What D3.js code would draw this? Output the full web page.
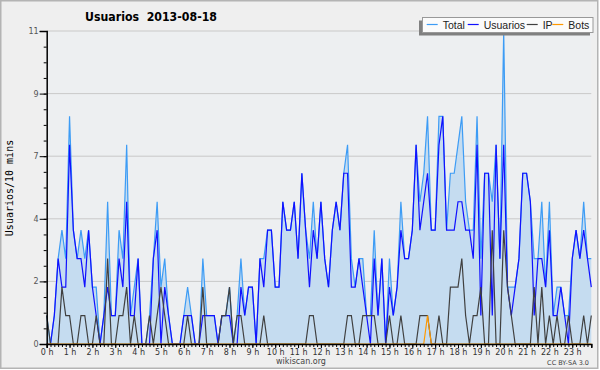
<!DOCTYPE html>
<html>
<head>
<meta charset="utf-8">
<script src="https://cdn.jsdelivr.net/npm/d3@7"></script>
<style>
  body { margin: 0; background: #fff; }
  text { font-family: "DejaVu Sans", sans-serif; }
</style>
</head>
<body>
<div id="chart"></div>
<script>
// 10-minute slots, 144 per day
var hourLabels = d3.range(0, 24).map(function (h) { return h + " h"; });
var yTicks = [0, 2.2, 4.4, 6.6, 8.8, 11];

var total = [1,0,1,3,4,3,8,4,3,4, 3,4,2,2,0,1,5,1,1,4, 3,7,1,2,3,0,0,1,3,5,
             2,3,1,0,0,0,1,2,1,0, 0,3,1,1,1,0,1,1,2,0, 1,3,1,2,2,0,3,3,4,4,
             2,2,5,4,4,5,3,6,4,3, 5,3,5,3,2,4,5,4,6,7, 3,2,3,3,1,1,4,1,3,0,
             3,1,2,5,3,3,4,7,5,6, 8,4,4,8,8,4,6,6,7,8, 5,4,4,8,3,6,6,5,7,3,
             11,2,2,2,3,6,6,5,3,3, 5,2,5,1,2,2,1,1,3,4, 3,5,3,3];
var usuarios = [0,0,1,3,2,2,7,4,3,3, 2,4,2,1,0,1,2,1,1,3, 2,5,1,1,3,0,0,0,3,4,
                0,2,1,0,0,0,1,1,1,0, 0,1,1,1,1,0,1,1,1,0, 0,2,1,2,2,0,3,2,4,4,
                2,2,5,4,4,5,3,6,4,2, 4,3,5,3,2,4,5,4,6,6, 2,2,3,2,1,0,3,1,3,0,
                2,1,2,4,3,3,4,7,4,5, 6,4,4,7,8,4,4,4,5,5, 4,4,3,7,1,6,6,1,7,3,
                7,2,1,2,3,6,6,5,1,3, 3,2,4,1,1,2,1,0,3,4, 3,4,3,2];
var ip = [1,0,0,0,2,1,1,0,0,1, 1,0,0,1,0,0,3,0,0,1, 1,2,0,1,0,0,0,1,0,1,
          2,1,0,0,0,0,0,1,0,0, 0,2,0,0,0,0,1,1,2,0, 1,1,0,0,0,0,0,1,0,0,
          0,0,0,0,0,0,0,0,0,1, 1,0,0,0,0,0,0,0,0,1, 1,0,0,1,1,1,1,0,0,0,
          1,0,0,1,0,0,0,0,1,1, 1,0,0,1,0,0,2,2,2,3, 1,0,1,1,2,0,0,4,0,0,
          4,2,1,0,0,0,0,0,2,0, 2,0,1,0,1,0,0,1,0,0, 0,1,0,1];
var bots = total.map(function () { return 0; });
bots[100] = 1;

var seriesNames = ["Total", "Usuarios", "IP", "Bots"];
var seriesColors = ["#3d9cf5", "#1010ff", "#404040", "#ff9900"];

var W = 600, H = 370;
var svg = d3.select("#chart").append("svg")
    .attr("width", W).attr("height", H);

svg.append("rect").attr("x", 0.75).attr("y", 0.75)
    .attr("width", 597).attr("height", 367.5)
    .attr("fill", "#efefef").attr("stroke", "#b4b4b4").attr("stroke-width", 1.5);

var x = d3.scaleLinear().domain([0, 143]).range([46.7, 591.3]);
var y = d3.scaleLinear().domain([0, 11]).range([344, 31]);

svg.append("rect")
    .attr("x", x(0)).attr("y", y(11))
    .attr("width", x(143) - x(0)).attr("height", y(0) - y(11))
    .attr("fill", "#edeff1");

// grid
svg.append("g").selectAll("line")
    .data(yTicks.slice(1))
    .enter().append("line")
    .attr("x1", x(0)).attr("x2", x(143))
    .attr("y1", function (d) { return y(d); })
    .attr("y2", function (d) { return y(d); })
    .attr("stroke", "#c9c9c9").attr("stroke-width", 1);

// area + lines
var idx = d3.range(total.length);
svg.append("path")
    .datum(idx)
    .attr("fill", "#c5dcf0")
    .attr("d", d3.area()
        .x(function (i) { return x(i); })
        .y0(y(0))
        .y1(function (i) { return y(total[i]); }));

[total, usuarios, ip, bots].forEach(function (s, k) {
    svg.append("path")
        .datum(idx)
        .attr("fill", "none")
        .attr("stroke", seriesColors[k])
        .attr("stroke-width", 1.2)
        .attr("stroke-linejoin", "miter")
        .attr("d", d3.line()
            .x(function (i) { return x(i); })
            .y(function (i) { return y(s[i]); }));
});

// y axis
var yMinor = d3.range(0, 21).map(function (k) { return k * 11 / 20; });
var yAxis = svg.append("g").attr("transform", "translate(" + x(0) + ",0)");
yAxis.append("g").call(d3.axisLeft(y).tickValues(yMinor).tickSize(3).tickFormat(""))
    .call(function (g) { g.select(".domain").remove(); });
yAxis.append("g").call(d3.axisLeft(y).tickValues(yTicks).tickSize(7).tickPadding(1)
        .tickFormat(function (d) { return Math.round(d); }))
    .call(function (g) {
        g.select(".domain").attr("stroke-width", 1.5);
        g.selectAll("text").attr("font-size", 8).attr("fill", "#555")
            .attr("font-family", "DejaVu Sans");
    });

// x axis
var xAxis = svg.append("g").attr("transform", "translate(0," + y(0) + ")");
xAxis.append("g").call(d3.axisBottom(x).tickValues(idx).tickSize(3).tickFormat(""))
    .call(function (g) { g.select(".domain").remove(); });
xAxis.append("g").call(d3.axisBottom(x)
        .tickValues(hourLabels.map(function (d, h) { return h * 6; }))
        .tickSize(4).tickPadding(1)
        .tickFormat(function (d) { return hourLabels[d / 6]; }))
    .call(function (g) {
        g.select(".domain").attr("stroke-width", 1.5);
        g.selectAll("text").attr("font-size", 8).attr("fill", "#333")
            .attr("font-family", "DejaVu Sans");
    });

// titles
svg.append("text").attr("x", 85).attr("y", 21)
    .attr("font-weight", "bold")
    .attr("font-size", 12).style("white-space", "pre")
    .attr("textLength", 132).attr("lengthAdjust", "spacingAndGlyphs")
    .text("Usuarios  2013-08-18");

svg.append("text")
    .attr("transform", "translate(13,188) rotate(-90)")
    .attr("text-anchor", "middle")
    .attr("font-size", 10)
    .style("font-family", "DejaVu Sans Mono")
    .text("Usuarios/10 mins");

svg.append("text").attr("x", 301).attr("y", 364)
    .attr("text-anchor", "middle").attr("font-size", 8).attr("fill", "#444")
    .text("wikiscan.org");
svg.append("text").attr("x", 589).attr("y", 365)
    .attr("text-anchor", "end").attr("font-size", 6.5).attr("fill", "#444")
    .text("CC BY-SA 3.0");

// legend
var lg = svg.append("g");
lg.append("rect").attr("x", 419).attr("y", 20.5).attr("width", 171).attr("height", 15)
    .attr("fill", "#808080");
lg.append("rect").attr("x", 422.5).attr("y", 17.5).attr("width", 170.5).attr("height", 15)
    .attr("fill", "#fbfbfb").attr("stroke", "#999").attr("stroke-width", 1);
var legendX = [426.7, 467.7, 526.7, 552.3];
seriesNames.forEach(function (n, k) {
    lg.append("line").attr("x1", legendX[k]).attr("x2", legendX[k] + 11)
        .attr("y1", 24.5).attr("y2", 24.5)
        .attr("stroke", seriesColors[k]).attr("stroke-width", 1.2);
    lg.append("text").attr("x", legendX[k] + 16).attr("y", 28.5)
        .attr("font-size", 10.5).attr("fill", "#222")
        .style("font-family", "'Liberation Sans', sans-serif").text(n);
});
</script>
</body>
</html>
